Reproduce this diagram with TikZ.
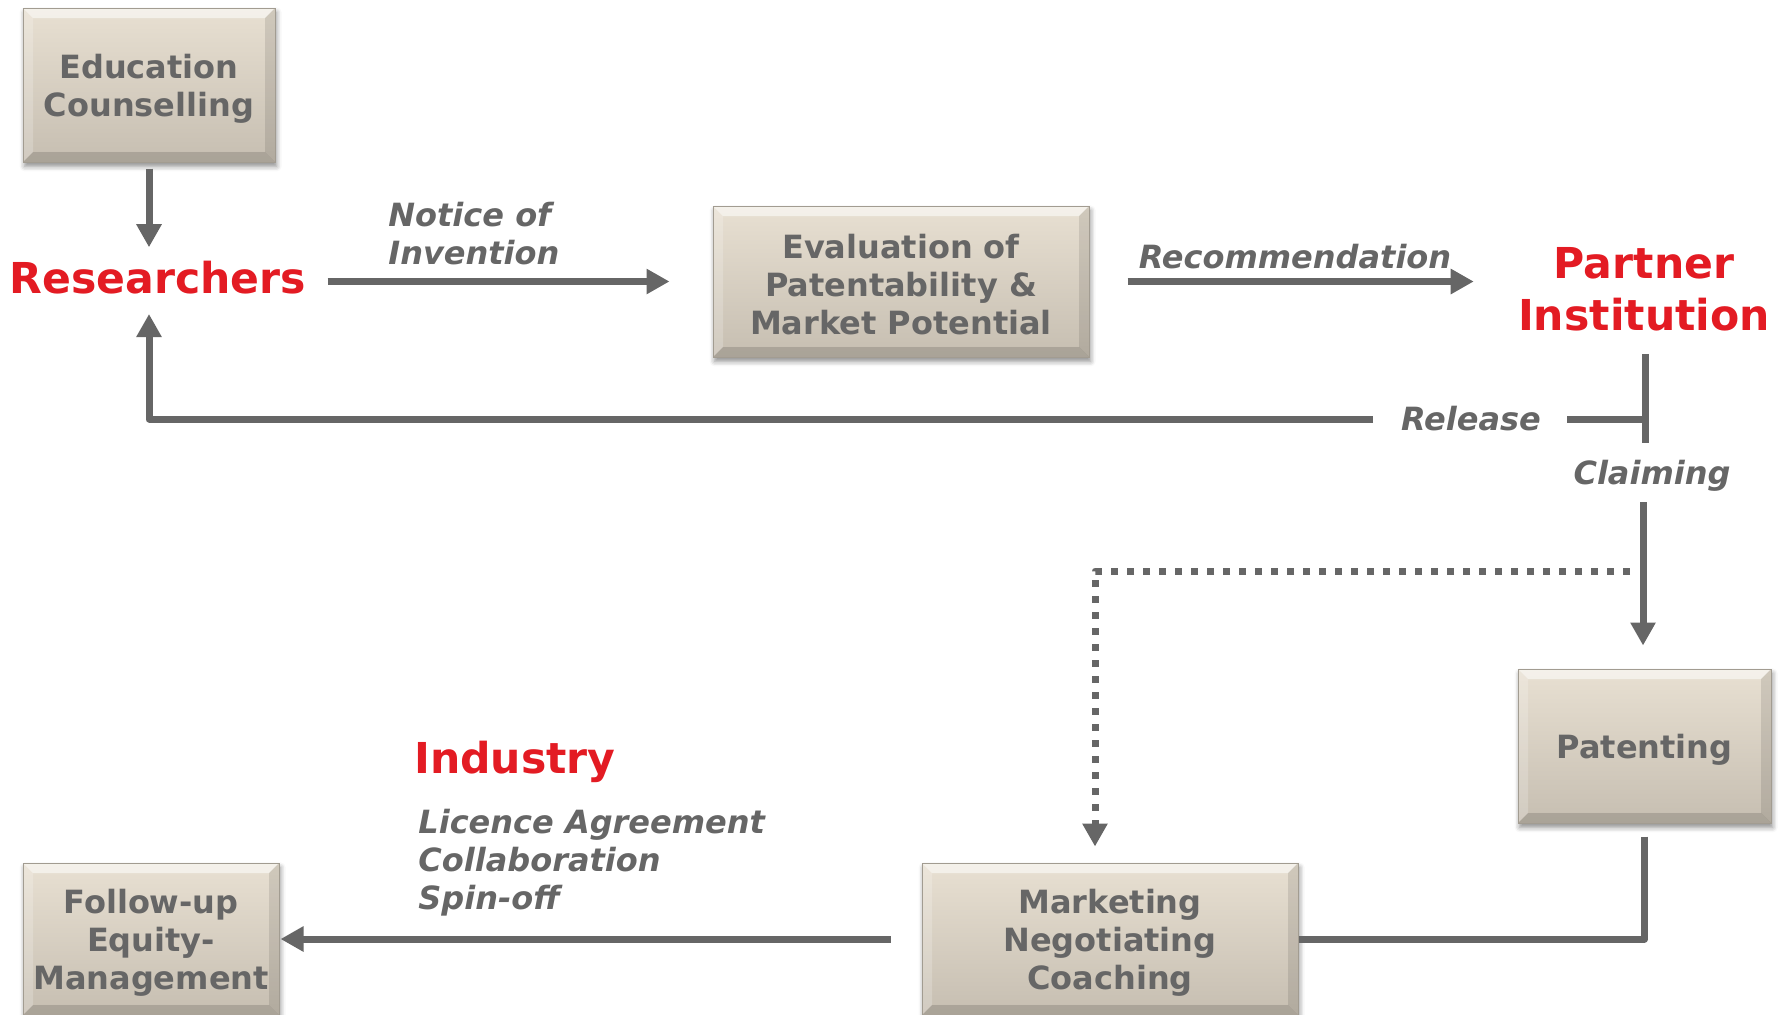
\documentclass[tikz,border=0pt]{standalone}
\usepackage{fontspec}
\setmainfont{DejaVu Sans}
\usetikzlibrary{arrows.meta,shadows.blur}
\definecolor{tgray}{HTML}{666666}
\definecolor{tred}{HTML}{E31B23}
\definecolor{boxtop}{HTML}{E8E0D2}
\definecolor{boxbot}{HTML}{C6BEB1}
\definecolor{boxedge}{HTML}{A29C91}
\newcommand\boxfont{\fontsize{16pt}{19pt}\selectfont\bfseries}
\newcommand\labfont{\fontsize{16pt}{19pt}\selectfont\bfseries\itshape}
\newcommand\hotfont{\fontsize{21.3pt}{26pt}\selectfont\bfseries}
\newcommand\topgap{\rule{0pt}{15.6pt}}
\tikzset{
  box/.style={rectangle, top color=boxtop, bottom color=boxbot, draw=boxedge,
    line width=0.5pt, text=tgray, font=\boxfont, align=center, inner sep=0pt,
    blur shadow={shadow xshift=0.8pt, shadow yshift=-2.2pt, shadow blur radius=2.5pt, shadow opacity=45},
    path picture={
      \fill[white,opacity=0.55] (path picture bounding box.north west) -- (path picture bounding box.north east)
        -- ([shift={(-5pt,-5pt)}]path picture bounding box.north east) -- ([shift={(5pt,-5pt)}]path picture bounding box.north west) -- cycle;
      \fill[white,opacity=0.2] (path picture bounding box.north west) -- ([shift={(5pt,-5pt)}]path picture bounding box.north west)
        -- ([shift={(5pt,5pt)}]path picture bounding box.south west) -- (path picture bounding box.south west) -- cycle;
      \fill[black,opacity=0.1] (path picture bounding box.north east) -- ([shift={(-5pt,-5pt)}]path picture bounding box.north east)
        -- ([shift={(-5pt,5pt)}]path picture bounding box.south east) -- (path picture bounding box.south east) -- cycle;
      \fill[black,opacity=0.14] (path picture bounding box.south west) -- ([shift={(5pt,5pt)}]path picture bounding box.south west)
        -- ([shift={(-5pt,5pt)}]path picture bounding box.south east) -- (path picture bounding box.south east) -- cycle;
    }},
  lab/.style={text=tgray, font=\labfont, inner sep=0pt},
  hot/.style={text=tred, font=\hotfont, inner sep=0pt},
  conn/.style={draw=tgray, line width=3.5pt, line join=round},
  arr/.style={conn, -{Triangle[width=12pt,length=11.5pt]}},
  dotarr/.style={arr, dash pattern=on 3.5pt off 4.5pt}
}
\begin{document}
\begin{tikzpicture}[x=0.5pt,y=-0.5pt]
\useasboundingbox (0,0) rectangle (1788,1014);
% boxes
\node[box, minimum width=126pt, minimum height=77pt] (edu) at (149,85) {\topgap Education\\Counselling};
\node[box, minimum width=188pt, minimum height=75.5pt] (eval) at (901,281.5) {\topgap Evaluation of\\Patentability \&\\Market Potential};
\node[box, minimum width=126.5pt, minimum height=77pt] (pat) at (1644.5,746) {\topgap Patenting};
\node[box, minimum width=188pt, minimum height=76pt] (mkt) at (1110,939) {\topgap Marketing\\Negotiating\\Coaching};
\node[box, minimum width=128pt, minimum height=76pt] (fol) at (151,939) {\topgap Follow-up\\Equity-\\Management};
% red labels
\node[hot, anchor=base] (res) at (158,293) {Researchers};
\node[hot, align=center, anchor=north] (pin) at (1644,247.5) {Partner\\Institution};
\node[hot, anchor=base] (ind) at (515,773) {Industry};
% grey labels
\node[lab, align=left, anchor=north west] (noi) at (388,202) {Notice of\\Invention};
\node[lab, anchor=base] (rec) at (1295,268) {Recommendation};
\node[lab, anchor=base] (rel) at (1471,430) {Release};
\node[lab, anchor=base] (clm) at (1652,484) {Claiming};
\node[lab, align=left, anchor=north west] (deal) at (418,809) {Licence Agreement\\Collaboration\\Spin-off};
% coordinates
\coordinate (tee) at (1645,419);
\coordinate (pbot) at (1645,443);
\coordinate (rel1) at (1567,419);
\coordinate (rel2) at (1373,419);
\coordinate (clm1) at (1643,502);
\coordinate (d1) at (1630,571);
% connectors
\draw[arr, shorten <=3pt, shorten >=6.5pt] (edu.south) -- (edu.south |- res.north);
\draw[arr, shorten <=10.5pt, shorten >=21.5pt] (res.east |- eval.west) -- (eval.west);
\draw[arr, shorten <=19pt, shorten >=22pt] (eval.east) -- (eval.east -| pin.west);
\draw[conn, shorten <=11pt] (pin.south -| tee) -- (pbot);
\draw[conn] (tee) -- (rel1);
\draw[arr, shorten >=10pt] (rel2) -| (edu.south |- res.south);
\draw[arr, shorten >=11.5pt] (clm1) -- (clm1 |- pat.north);
\draw[dotarr, shorten >=8pt] (d1) -| ([xshift=-7.5pt]mkt.north);
\draw[conn, shorten <=6.5pt] (pat.south) |- (mkt.east);
\draw[arr, shorten <=15.5pt, shorten >=0.5pt] (mkt.west) -- (fol.east);
\end{tikzpicture}
\end{document}
